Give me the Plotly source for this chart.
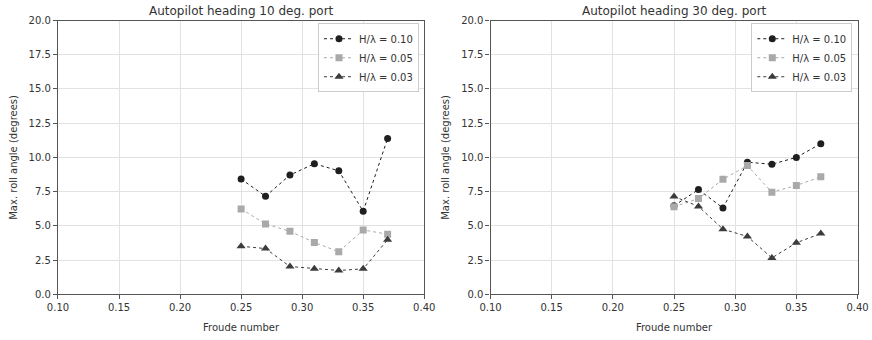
import plotly.graph_objects as go

froude = [0.25, 0.27, 0.29, 0.31, 0.33, 0.35, 0.37]

# Autopilot heading 10 deg. port
roll10_h010 = [8.42, 7.16, 8.71, 9.54, 9.02, 6.06, 11.38]
roll10_h005 = [6.24, 5.14, 4.60, 3.79, 3.11, 4.70, 4.39]
roll10_h003 = [3.51, 3.34, 2.03, 1.86, 1.74, 1.86, 3.98]

# Autopilot heading 30 deg. port
roll30_h010 = [6.47, 7.65, 6.31, 9.65, 9.50, 10.00, 11.00]
roll30_h005 = [6.40, 6.99, 8.40, 9.40, 7.46, 7.95, 8.58]
roll30_h003 = [7.15, 6.42, 4.76, 4.22, 2.66, 3.76, 4.44]

titles = ["Autopilot heading 10 deg. port", "Autopilot heading 30 deg. port"]
series_names = ["H/λ = 0.10", "H/λ = 0.05", "H/λ = 0.03"]
x_ticks = [0.10, 0.15, 0.20, 0.25, 0.30, 0.35, 0.40]
y_ticks = [0.0, 2.5, 5.0, 7.5, 10.0, 12.5, 15.0, 17.5, 20.0]

styles = [
    dict(color="#1f1f1f", symbol="circle", size=7),
    dict(color="#a9a9a9", symbol="square", size=7),
    dict(color="#3c3c3c", symbol="triangle-up", size=8),
]

panels = [
    [roll10_h010, roll10_h005, roll10_h003],
    [roll30_h010, roll30_h005, roll30_h003],
]

x_domains = [[0.0665, 0.4865], [0.5625, 0.9834]]
y_domain = [0.1344, 0.9397]
font_family = "DejaVu Sans, sans-serif"
text_color = "#333333"

fig = go.Figure()

for p, series in enumerate(panels):
    xa = "x" if p == 0 else "x2"
    ya = "y" if p == 0 else "y2"
    lg = "legend" if p == 0 else "legend2"
    for s, vals in enumerate(series):
        st = styles[s]
        fig.add_trace(go.Scatter(
            x=froude, y=vals, name=series_names[s],
            mode="lines+markers",
            line=dict(color=st["color"], width=1, dash="dot"),
            marker=dict(color=st["color"], symbol=st["symbol"], size=st["size"]),
            xaxis=xa, yaxis=ya, legend=lg,
        ))

axis_common = dict(
    showline=True, mirror=True, linecolor="#555555", linewidth=1.2,
    showgrid=True, gridcolor="#e2e2e2", gridwidth=1,
    ticks="outside", ticklen=4, tickcolor="#555555",
    tickfont=dict(family=font_family, size=10, color=text_color),
    zeroline=False, automargin=False,
)

layout = dict(
    width=872, height=340,
    margin=dict(l=0, r=0, t=0, b=0),
    plot_bgcolor="white", paper_bgcolor="white",
    font=dict(family=font_family, color=text_color),
    showlegend=True,
)

for p in range(2):
    sfx = "" if p == 0 else "2"
    layout["xaxis" + sfx] = dict(
        axis_common, domain=x_domains[p], range=[0.10, 0.40],
        tickvals=x_ticks, ticktext=[f"{v:.2f}" for v in x_ticks],
        anchor="y" + sfx,
        title=dict(text="Froude number", font=dict(family=font_family, size=10, color=text_color), standoff=11),
    )
    layout["yaxis" + sfx] = dict(
        axis_common, domain=y_domain, range=[0, 20],
        tickvals=y_ticks, ticktext=[f"{v:.1f}" for v in y_ticks],
        anchor="x" + sfx,
        title=dict(text="Max. roll angle (degrees)", font=dict(family=font_family, size=10, color=text_color), standoff=9),
    )
    legend_key = "legend" if p == 0 else "legend2"
    layout[legend_key] = dict(
        x=x_domains[p][1] - 0.006, y=y_domain[1] - 0.008,
        xanchor="right", yanchor="top",
        bgcolor="rgba(255,255,255,0.85)", bordercolor="#cccccc", borderwidth=1,
        font=dict(family=font_family, size=10, color=text_color),
        tracegroupgap=0, itemwidth=30,
    )

fig.update_layout(**layout)

for p in range(2):
    fig.add_annotation(
        text=titles[p], xref="paper", yref="paper",
        x=sum(x_domains[p]) / 2, y=y_domain[1],
        xanchor="center", yanchor="bottom", showarrow=False, yshift=1,
        font=dict(family=font_family, size=12, color=text_color),
    )

fig.write_html("out.html")
